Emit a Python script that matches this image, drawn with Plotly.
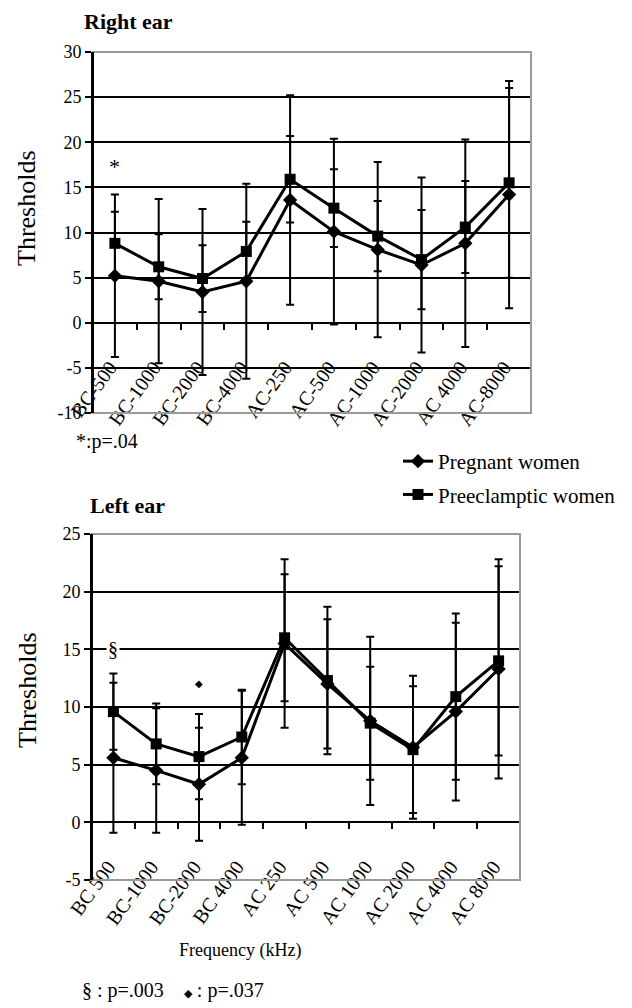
import plotly.graph_objects as go

# ---------------- data ----------------
cats_right = ["BC-500", "BC-1000", "BC-2000", "BC-4000", "AC-250",
              "AC-500", "AC-1000", "AC-2000", "AC 4000", "AC-8000"]
preg_right = [5.2, 4.6, 3.4, 4.6, 13.6, 10.1, 8.1, 6.4, 8.8, 14.2]
preg_right_sd = [9.0, 9.1, 9.2, 10.8, 11.6, 10.3, 9.7, 9.7, 11.5, 12.6]
pre_right = [8.8, 6.2, 4.9, 7.9, 15.9, 12.7, 9.6, 7.0, 10.6, 15.5]
pre_right_sd = [3.5, 3.6, 3.7, 3.3, 4.8, 4.3, 3.9, 5.5, 5.1, 10.5]

cats_left = ["BC 500", "BC-1000", "BC-2000", "BC 4000", "AC 250",
             "AC 500", "AC 1000", "AC 2000", "AC 4000", "AC 8000"]
preg_left = [5.6, 4.5, 3.3, 5.6, 15.5, 12.0, 8.8, 6.5, 9.6, 13.3]
preg_left_sd = [6.5, 5.4, 4.9, 5.8, 7.3, 5.6, 7.3, 6.2, 7.7, 9.5]
pre_left = [9.6, 6.8, 5.7, 7.4, 16.0, 12.3, 8.6, 6.3, 10.9, 14.0]
pre_left_sd = [3.3, 3.5, 3.7, 4.1, 5.5, 6.4, 4.9, 5.5, 7.2, 8.2]

yticks_right = [-10, -5, 0, 5, 10, 15, 20, 25, 30]
yticks_left = [-5, 0, 5, 10, 15, 20, 25]

# page is offset by the 8px default body margin
OFF = 8
W, H = 632 - OFF, 1008 - OFF
FONT = "Liberation Serif"

def px_x(p):
    return (p - OFF) / W

def px_y(p):
    return 1 - (p - OFF) / H

top_dom_x = [px_x(93), px_x(531)]
top_dom_y = [px_y(413), px_y(52)]
bot_dom_x = [px_x(92), px_x(520)]
bot_dom_y = [px_y(880), px_y(534)]

top_range = [yticks_right[0], yticks_right[-1]]
bot_range = [yticks_left[0], yticks_left[-1]]

def zero_pos(dom, rng):
    return dom[0] + (0 - rng[0]) / (rng[1] - rng[0]) * (dom[1] - dom[0])

fig = go.Figure()

def add_series(x, y, sd, name, symbol, xa, ya, show):
    fig.add_trace(go.Scatter(
        x=x, y=y, name=name, mode="lines+markers",
        line=dict(color="black", width=3),
        marker=dict(symbol=symbol, size=11, color="black"),
        error_y=dict(type="data", array=sd, visible=True, color="black",
                     thickness=2, width=4),
        xaxis=xa, yaxis=ya, showlegend=show, legendgroup=name,
    ))

add_series(cats_right, preg_right, preg_right_sd, "Pregnant women", "diamond", "x", "y", True)
add_series(cats_right, pre_right, pre_right_sd, "Preeclamptic women", "square", "x", "y", True)
add_series(cats_left, preg_left, preg_left_sd, "Pregnant women", "diamond", "x2", "y2", False)
add_series(cats_left, pre_left, pre_left_sd, "Preeclamptic women", "square", "x2", "y2", False)

xcommon = dict(
    type="category", range=[-0.5, 9.5], showgrid=False, zeroline=False,
    showline=True, linecolor="black", linewidth=2,
    ticks="outside", tickson="boundaries", ticklen=6, tickwidth=2, tickcolor="black",
    tickangle=-54, tickfont=dict(family=FONT, size=20, color="black"),
    anchor="free", ticklabelstandoff=24, ticklabelshift=-5, automargin=False,
)
ycommon = dict(
    showgrid=True, gridcolor="black", gridwidth=2, zeroline=False,
    showline=True, linecolor="black", linewidth=2,
    ticks="outside", ticklen=6, tickwidth=2, tickcolor="black",
    tickfont=dict(family=FONT, size=18, color="black"), automargin=False,
)

fig.update_layout(
    xaxis=dict(domain=top_dom_x, position=zero_pos(top_dom_y, top_range), **xcommon),
    yaxis=dict(domain=top_dom_y, range=top_range, tickvals=yticks_right,
               ticktext=[str(v) for v in yticks_right], anchor="x", **ycommon),
    xaxis2=dict(domain=bot_dom_x, position=zero_pos(bot_dom_y, bot_range), **xcommon),
    yaxis2=dict(domain=bot_dom_y, range=bot_range, tickvals=yticks_left,
                ticktext=[str(v) for v in yticks_left], anchor="x2", **ycommon),
)

# plot-area borders (grey)
for xr, yr in (("x domain", "y domain"), ("x2 domain", "y2 domain")):
    fig.add_shape(type="rect", xref=xr, yref=yr, x0=0, x1=1, y0=0, y1=1,
                  line=dict(color="#9a9a9a", width=2), layer="above")
    fig.add_shape(type="line", xref=xr, yref=yr, x0=0, x1=0, y0=0, y1=1,
                  line=dict(color="black", width=2), layer="above")

def ann(text, x, y, size=20, bold=False, angle=0, xanchor="center", **kw):
    fig.add_annotation(text=f"<b>{text}</b>" if bold else text,
                       x=x, y=y, xref=kw.pop("xref", "paper"), yref=kw.pop("yref", "paper"),
                       showarrow=False, textangle=angle, xanchor=xanchor, yanchor="middle",
                       font=dict(family=FONT, size=size, color="black"), **kw)

ann("Right ear", px_x(82), px_y(21), size=22, bold=True, xanchor="left")
ann("Left ear", px_x(88), px_y(505), size=22, bold=True, xanchor="left")
ann("Thresholds", px_x(27), px_y(208), size=26, angle=-90)
ann("Thresholds", px_x(27), px_y(690), size=26, angle=-90)
ann("*:p=.04", px_x(74), px_y(441), size=20, xanchor="left")
ann("Frequency (kHz)", px_x(240), px_y(950), size=18)
ann("§ : p=.003&nbsp;&nbsp;&nbsp;&nbsp;<span style='font-size:11px'>◆</span> : p=.037",
    px_x(80), px_y(990), size=20, xanchor="left")
ann("*", cats_right[0], 17.3, size=22, xref="x", yref="y")
ann("§", cats_left[0], 15, size=20, xref="x2", yref="y2", bgcolor="white")
ann("◆", cats_left[2], 12, size=10, xref="x2", yref="y2")

fig.update_layout(
    width=W, height=H, autosize=False,
    margin=dict(l=0, r=0, t=0, b=0, autoexpand=False),
    paper_bgcolor="white", plot_bgcolor="white",
    showlegend=True,
    legend=dict(x=px_x(398), y=px_y(441), xanchor="left", yanchor="top",
                font=dict(family=FONT, size=21, color="black"),
                bgcolor="rgba(0,0,0,0)", tracegroupgap=3),
)

fig.write_html("out.html")
